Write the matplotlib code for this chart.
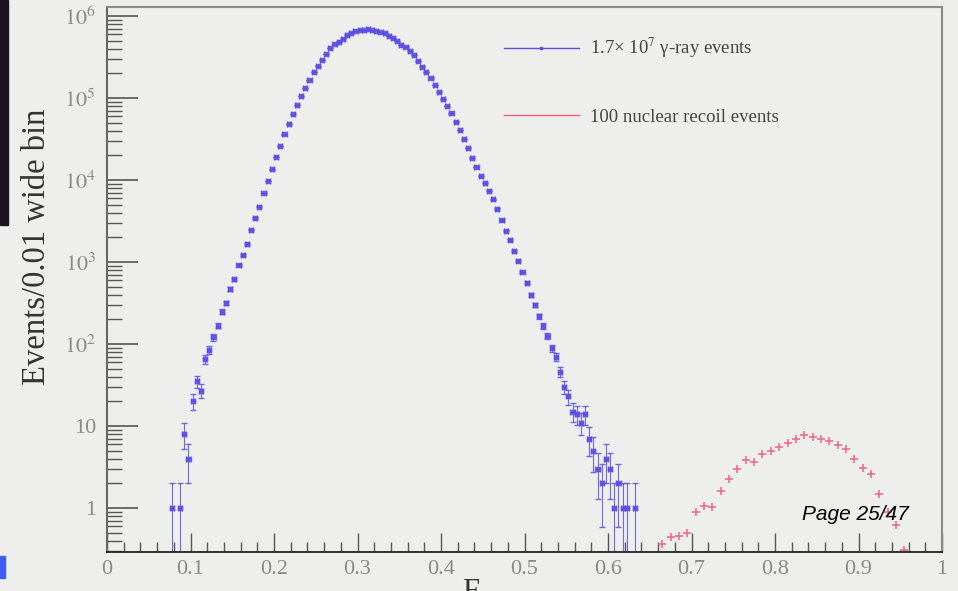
import numpy as np
import matplotlib.pyplot as plt
from matplotlib.lines import Line2D
from matplotlib.patches import Rectangle
from matplotlib.ticker import FixedLocator, MultipleLocator, LogLocator, NullFormatter

plt.rcParams['font.family'] = ['Liberation Serif', 'DejaVu Serif']
plt.rcParams['mathtext.fontset'] = 'stix'

# gamma-ray events, 0.005 wide bins, first bin centre 0.0775 (0 = empty bin)
gamma_start = 0.0775
gamma_width = 0.005
gamma_counts = [1, 0, 1, 8, 4, 20, 35, 27, 65, 85, 120, 168, 248, 314, 470, 618, 915,
                1207, 1671, 2477, 3443, 4725, 6939, 9724, 13490, 19060, 26190,
                36060, 48160, 63790, 81450, 104900, 132400, 165800, 205800, 245500, 290500,
                344300, 403600, 451800, 488800, 531900, 586500, 629500, 650600, 674500, 684400,
                688500, 678700, 662000, 641700, 615200, 578300, 539500, 491300, 449000, 422300,
                374200, 334300, 286500, 242200, 207600, 175300, 144100, 119500, 96420, 79850,
                65020, 51650, 40740, 31620, 24550, 18530, 14410, 11200, 9187, 7405,
                5821, 4431, 3251, 2421, 1854, 1380, 1028, 755, 559, 396,
                299, 219, 167, 125, 89, 70, 46, 30, 23, 15,
                14, 11, 14, 7, 5, 3, 2, 4, 3,
                1, 2, 1, 1, 0, 1]

# nuclear recoil events, 0.01 wide bins, first bin centre 0.665
recoil_start = 0.665
recoil_width = 0.01
recoil_counts = [0.36, 0.44, 0.46, 0.50, 0.88, 1.06, 1.02, 1.63, 2.24, 2.96,
                 3.85, 3.64, 4.56, 5.0, 5.6, 6.15, 6.9, 7.8, 7.4, 7.0,
                 6.6, 5.9, 5.3, 4.0, 3.1, 2.6, 1.48, 0.9, 0.62, 0.31]

xticks = [0, 0.1, 0.2, 0.3, 0.4, 0.5, 0.6, 0.7, 0.8, 0.9, 1]
xticklabels = ['0', '0.1', '0.2', '0.3', '0.4', '0.5', '0.6', '0.7', '0.8', '0.9', '1']
yticks = [1, 10, 1e2, 1e3, 1e4, 1e5, 1e6]
yticklabels = ['1', '10', '$10^{2}$', '$10^{3}$', '$10^{4}$', '$10^{5}$', '$10^{6}$']

blue = '#5a4fe2'
red = '#f0607a'
bg = '#eeeeec'

gc = np.array(gamma_counts, dtype=float)
gx = gamma_start + gamma_width * np.arange(gc.size)
keep = gc > 0
gx, gc = gx[keep], gc[keep]

rc = np.array(recoil_counts)
rx = recoil_start + recoil_width * np.arange(rc.size)

fig = plt.figure(figsize=(9.58, 5.91), dpi=100, facecolor=bg)
# dark slide edge on the left
fig.patches.append(Rectangle((0, 1 - 225 / 591), 8 / 958, 225 / 591,
                             transform=fig.transFigure, color='#1c1420', zorder=0))
fig.patches.append(Rectangle((0, 1 - 578 / 591), 5 / 958, 22 / 591,
                             transform=fig.transFigure, color='#3f5cf0', zorder=0))

ax = fig.add_axes([107 / 958, 1 - 552 / 591, 835 / 958, 545 / 591])
ax.set_facecolor(bg)

ax.errorbar(gx, gc, yerr=np.sqrt(gc), xerr=gamma_width / 2, fmt='s', ms=3.2,
            color=blue, ecolor=blue, elinewidth=0.8, capsize=2.5, alpha=0.85)
ax.plot(rx, rc, '+', ms=6, mew=1.2, color=red, alpha=0.9)

ax.set_yscale('log')
ax.set_xlim(0, 1)
ax.set_ylim(0.29, 1.29e6)

ax.xaxis.set_major_locator(FixedLocator(xticks))
ax.set_xticklabels(xticklabels)
ax.xaxis.set_minor_locator(MultipleLocator(0.02))
ax.yaxis.set_major_locator(FixedLocator(yticks))
ax.set_yticklabels(yticklabels)
ax.yaxis.set_minor_locator(LogLocator(base=10, subs=np.arange(2, 10)))
ax.yaxis.set_minor_formatter(NullFormatter())

ax.tick_params(axis='both', which='both', direction='in', colors='#555555',
               labelcolor='#8a8a8a', labelsize=16)
ax.tick_params(axis='y', which='major', length=22, width=1.2, pad=8)
ax.tick_params(axis='y', which='minor', length=11, width=1.0)
ax.tick_params(axis='x', which='major', length=14, width=1.0, pad=6)
ax.tick_params(axis='x', which='minor', length=7, width=1.0)

for side in ['top', 'right']:
    ax.spines[side].set_color('#8a8a8a')
    ax.spines[side].set_linewidth(1.5)
ax.spines['left'].set_color('#666666')
ax.spines['left'].set_linewidth(1.5)
ax.spines['bottom'].set_color('#222222')
ax.spines['bottom'].set_linewidth(1.3)

ax.set_ylabel('Events/0.01 wide bin', fontsize=23.5, color='#333333')
ax.yaxis.set_label_coords(-0.066, 0.56)
ax.set_xlabel('F', fontsize=22, color='#333333')
ax.xaxis.set_label_coords(0.435, -0.048)
ax.xaxis.label.set_va('top')

handles = [Line2D([], [], color=blue, marker='s', ms=2, lw=1.0),
           Line2D([], [], color=red, lw=1.0)]
labels = ['1.7\u00d7 10$^{7}$ \u03b3-ray events', '100 nuclear recoil events']
ax.legend(handles, labels, loc='upper left', bbox_to_anchor=(0.455, 0.978),
          frameon=False, fontsize=13.5, handlelength=4.0, labelspacing=2.6,
          handletextpad=0.6, labelcolor='#444444')

fig.text(802 / 958, 1 - 515 / 591, 'Page 25/47', fontsize=15, style='italic',
         family=['Liberation Sans', 'DejaVu Sans'], color='black', va='center')

fig.savefig('out.png', dpi=100, facecolor=bg)
